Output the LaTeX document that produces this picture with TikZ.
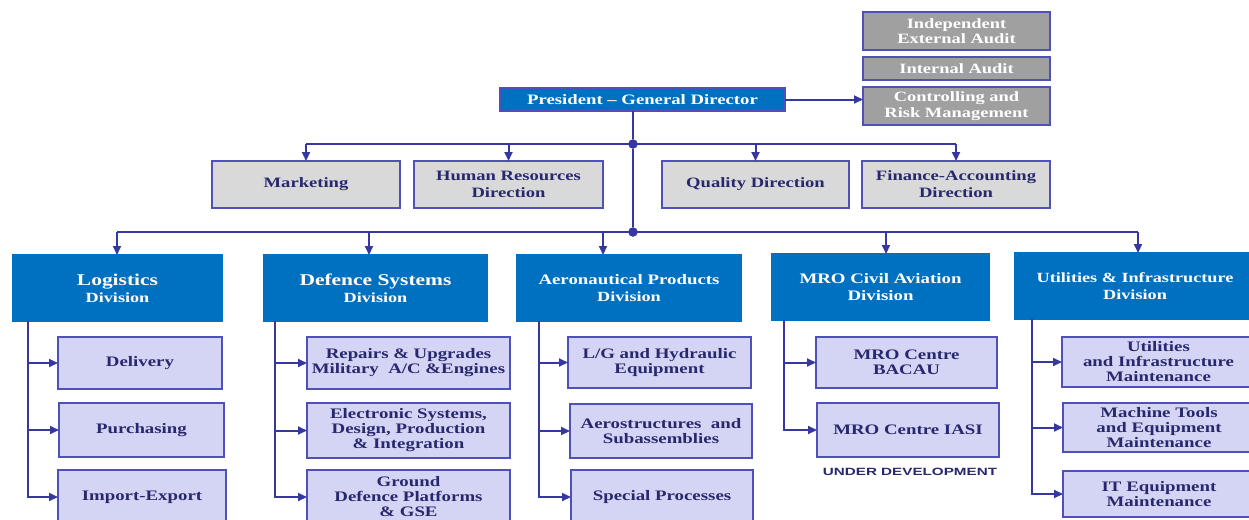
\documentclass[tikz,border=0pt]{standalone}
\usepackage{fontspec}
\setmainfont{Liberation Serif}[FakeStretch=1.3]
\newfontfamily\udfont{Liberation Sans}[FakeStretch=1.45]
\usetikzlibrary{arrows.meta}
\definecolor{divblue}{RGB}{0,112,192}
\definecolor{lnblue}{RGB}{55,55,160}
\definecolor{subfill}{RGB}{212,212,244}
\definecolor{subline}{RGB}{80,80,185}
\definecolor{grayfill}{RGB}{217,217,217}
\definecolor{auditfill}{RGB}{160,160,160}
\definecolor{txtblue}{RGB}{40,40,110}
\tikzset{
  base/.style={inner sep=0pt, outer sep=0pt, align=center, line width=1.4pt},
  auditbox/.style={base, draw=subline, fill=auditfill, text=white, font=\bfseries\fontsize{14.2}{15.5}\selectfont},
  presbox/.style={base, draw=subline, fill=divblue, text=white, font=\bfseries\fontsize{14.4}{15}\selectfont},
  graybox/.style={base, draw=subline, fill=grayfill, text=txtblue, font=\bfseries\fontsize{14.3}{17}\selectfont},
  divbox/.style={base, draw=divblue, fill=divblue, text=white, font=\bfseries\fontsize{14}{17}\selectfont},
  subbox/.style={base, draw=subline, fill=subfill, text=txtblue, font=\bfseries\fontsize{14.5}{15}\selectfont},
  conn/.style={draw=lnblue, line width=2pt},
  arr/.style={conn, -{Triangle[length=9pt,width=8pt]}},
  dot/.style={circle, fill=lnblue, draw=lnblue, inner sep=0pt, minimum size=9pt},
}
\newcommand{\dt}[1]{{\fontsize{16.5}{17}\selectfont #1}\\{\fontsize{14}{17}\selectfont Division}}
\begin{document}
\begin{tikzpicture}[x=1pt,y=-1pt]
\clip (0,0) rectangle (1249,519);
\fill[white] (0,0) rectangle (1249,519);
% top right audit boxes
\node[auditbox, minimum width=187pt, minimum height=38pt] (ext) at (956.5,31) {Independent\\External Audit};
\node[auditbox, minimum width=187pt, minimum height=23pt] (ia) at (956.5,68.5) {Internal Audit};
\node[auditbox, minimum width=187pt, minimum height=38pt] (crm) at (956.5,106) {Controlling and\\Risk Management};
% president
\node[presbox, minimum width=285pt, minimum height=23pt] (pres) at (642.5,99.5) {President -- General Director};
\draw[arr] (pres.east) -- (pres.east -| crm.west);
% directions
\node[graybox, minimum width=188pt, minimum height=47pt] (mkt) at (306,184.5) {Marketing};
\node[graybox, minimum width=189pt, minimum height=47pt] (hr) at (508.5,184.5) {Human Resources\\Direction};
\node[graybox, minimum width=187pt, minimum height=47pt] (qd) at (755.5,184.5) {Quality Direction};
\node[graybox, minimum width=188pt, minimum height=47pt] (fin) at (956,184.5) {Finance-Accounting\\Direction};
% divisions
\node[divbox, minimum width=209pt, minimum height=66pt] (logi) at (117.5,288) {\dt{Logistics}};
\node[divbox, minimum width=223pt, minimum height=66pt] (def) at (375.5,288) {\dt{Defence Systems}};
\node[divbox, minimum width=224pt, minimum height=66pt] (aero) at (629,288) {{\fontsize{14.5}{17}\selectfont Aeronautical Products}\\{\fontsize{14}{17}\selectfont Division}};
\node[divbox, minimum width=217pt, minimum height=66pt] (mro) at (880.5,287) {{\fontsize{14.5}{17}\selectfont MRO Civil Aviation}\\{\fontsize{14.5}{17}\selectfont Division}};
\node[divbox, minimum width=240pt, minimum height=66pt] (util) at (1135,286) {{\fontsize{14}{17}\selectfont Utilities \& Infrastructure}\\{\fontsize{14}{17}\selectfont Division}};
% junctions
\node[dot] (j1) at (633,144) {};
\node[dot] (j2) at (633,232) {};
\draw[conn] (pres.south -| j1) -- (j1) -- (j2);
\draw[conn] (mkt.north |- j1) -- (fin.north |- j1);
\foreach \n in {mkt,hr,qd,fin} \draw[arr] (\n.north |- j1) -- (\n.north);
\coordinate (tL) at (117,232);
\coordinate (tD) at (369,232);
\coordinate (tA) at (603,232);
\coordinate (tM) at (886,232);
\coordinate (tU) at (1138,232);
\draw[conn] (tL) -- (tU);
\draw[arr] (tL) -- (tL |- logi.north);
\draw[arr] (tD) -- (tD |- def.north);
\draw[arr] (tA) -- (tA |- aero.north);
\draw[arr] (tM) -- (tM |- mro.north);
\draw[arr] (tU) -- (tU |- util.north);
% logistics subs
\node[subbox, minimum width=164pt, minimum height=52pt] (del) at (140,363) {Delivery};
\node[subbox, minimum width=165pt, minimum height=54pt] (pur) at (141.5,430) {Purchasing};
\node[subbox, minimum width=168pt, minimum height=54pt] (imp) at (142,497) {Import-Export};
\coordinate (vL) at (28,0);
\draw[arr] (logi.south -| vL) |- (imp.west);
\draw[arr] (vL |- del.west) -- (del.west);
\draw[arr] (vL |- pur.west) -- (pur.west);
% defence subs
\node[subbox, minimum width=203pt, minimum height=52pt] (rep) at (408.5,363) {Repairs \& Upgrades\\Military~ A/C \&Engines};
\node[subbox, minimum width=203pt, minimum height=55pt] (ele) at (408.5,430.5) {Electronic Systems,\\Design, Production\\\& Integration};
\node[subbox, minimum width=203pt, minimum height=54pt] (gnd) at (408.5,497) {Ground\\Defence Platforms\\\& GSE};
\coordinate (vD) at (275,0);
\draw[arr] (def.south -| vD) |- (gnd.west);
\draw[arr] (vD |- rep.west) -- (rep.west);
\draw[arr] (vD |- ele.west) -- (ele.west);
% aero subs
\node[subbox, minimum width=183pt, minimum height=51pt] (lg) at (659.5,362.5) {L/G and Hydraulic\\Equipment};
\node[subbox, minimum width=182pt, minimum height=54pt] (aes) at (661,431) {Aerostructures~ and\\Subassemblies};
\node[subbox, minimum width=182pt, minimum height=54pt] (spp) at (662,497) {Special Processes};
\coordinate (vA) at (539,0);
\draw[arr] (aero.south -| vA) |- (spp.west);
\draw[arr] (vA |- lg.west) -- (lg.west);
\draw[arr] (vA |- aes.west) -- (aes.west);
% MRO subs
\node[subbox, minimum width=181pt, minimum height=51pt] (bac) at (906.5,362.5) {MRO Centre\\BACAU};
\node[subbox, minimum width=182pt, minimum height=54pt] (ias) at (908,430) {MRO Centre IASI};
\coordinate (vM) at (784,0);
\draw[arr] (mro.south -| vM) |- (ias.west);
\draw[arr] (vM |- bac.west) -- (bac.west);
\node[text=txtblue, font=\udfont\bfseries\fontsize{10.5}{12}\selectfont, inner sep=0pt] (ud) at (910,472) {UNDER DEVELOPMENT};
% utilities subs
\node[subbox, minimum width=193pt, minimum height=50pt] (um) at (1158.5,362) {Utilities\\and Infrastructure\\Maintenance};
\node[subbox, minimum width=192pt, minimum height=49pt] (mt) at (1159,427.5) {Machine Tools\\and Equipment\\Maintenance};
\node[subbox, minimum width=192pt, minimum height=46pt] (it) at (1159,494) {IT Equipment\\Maintenance};
\coordinate (vU) at (1032,0);
\draw[arr] (util.south -| vU) |- (it.west);
\draw[arr] (vU |- um.west) -- (um.west);
\draw[arr] (vU |- mt.west) -- (mt.west);
\end{tikzpicture}
\end{document}
